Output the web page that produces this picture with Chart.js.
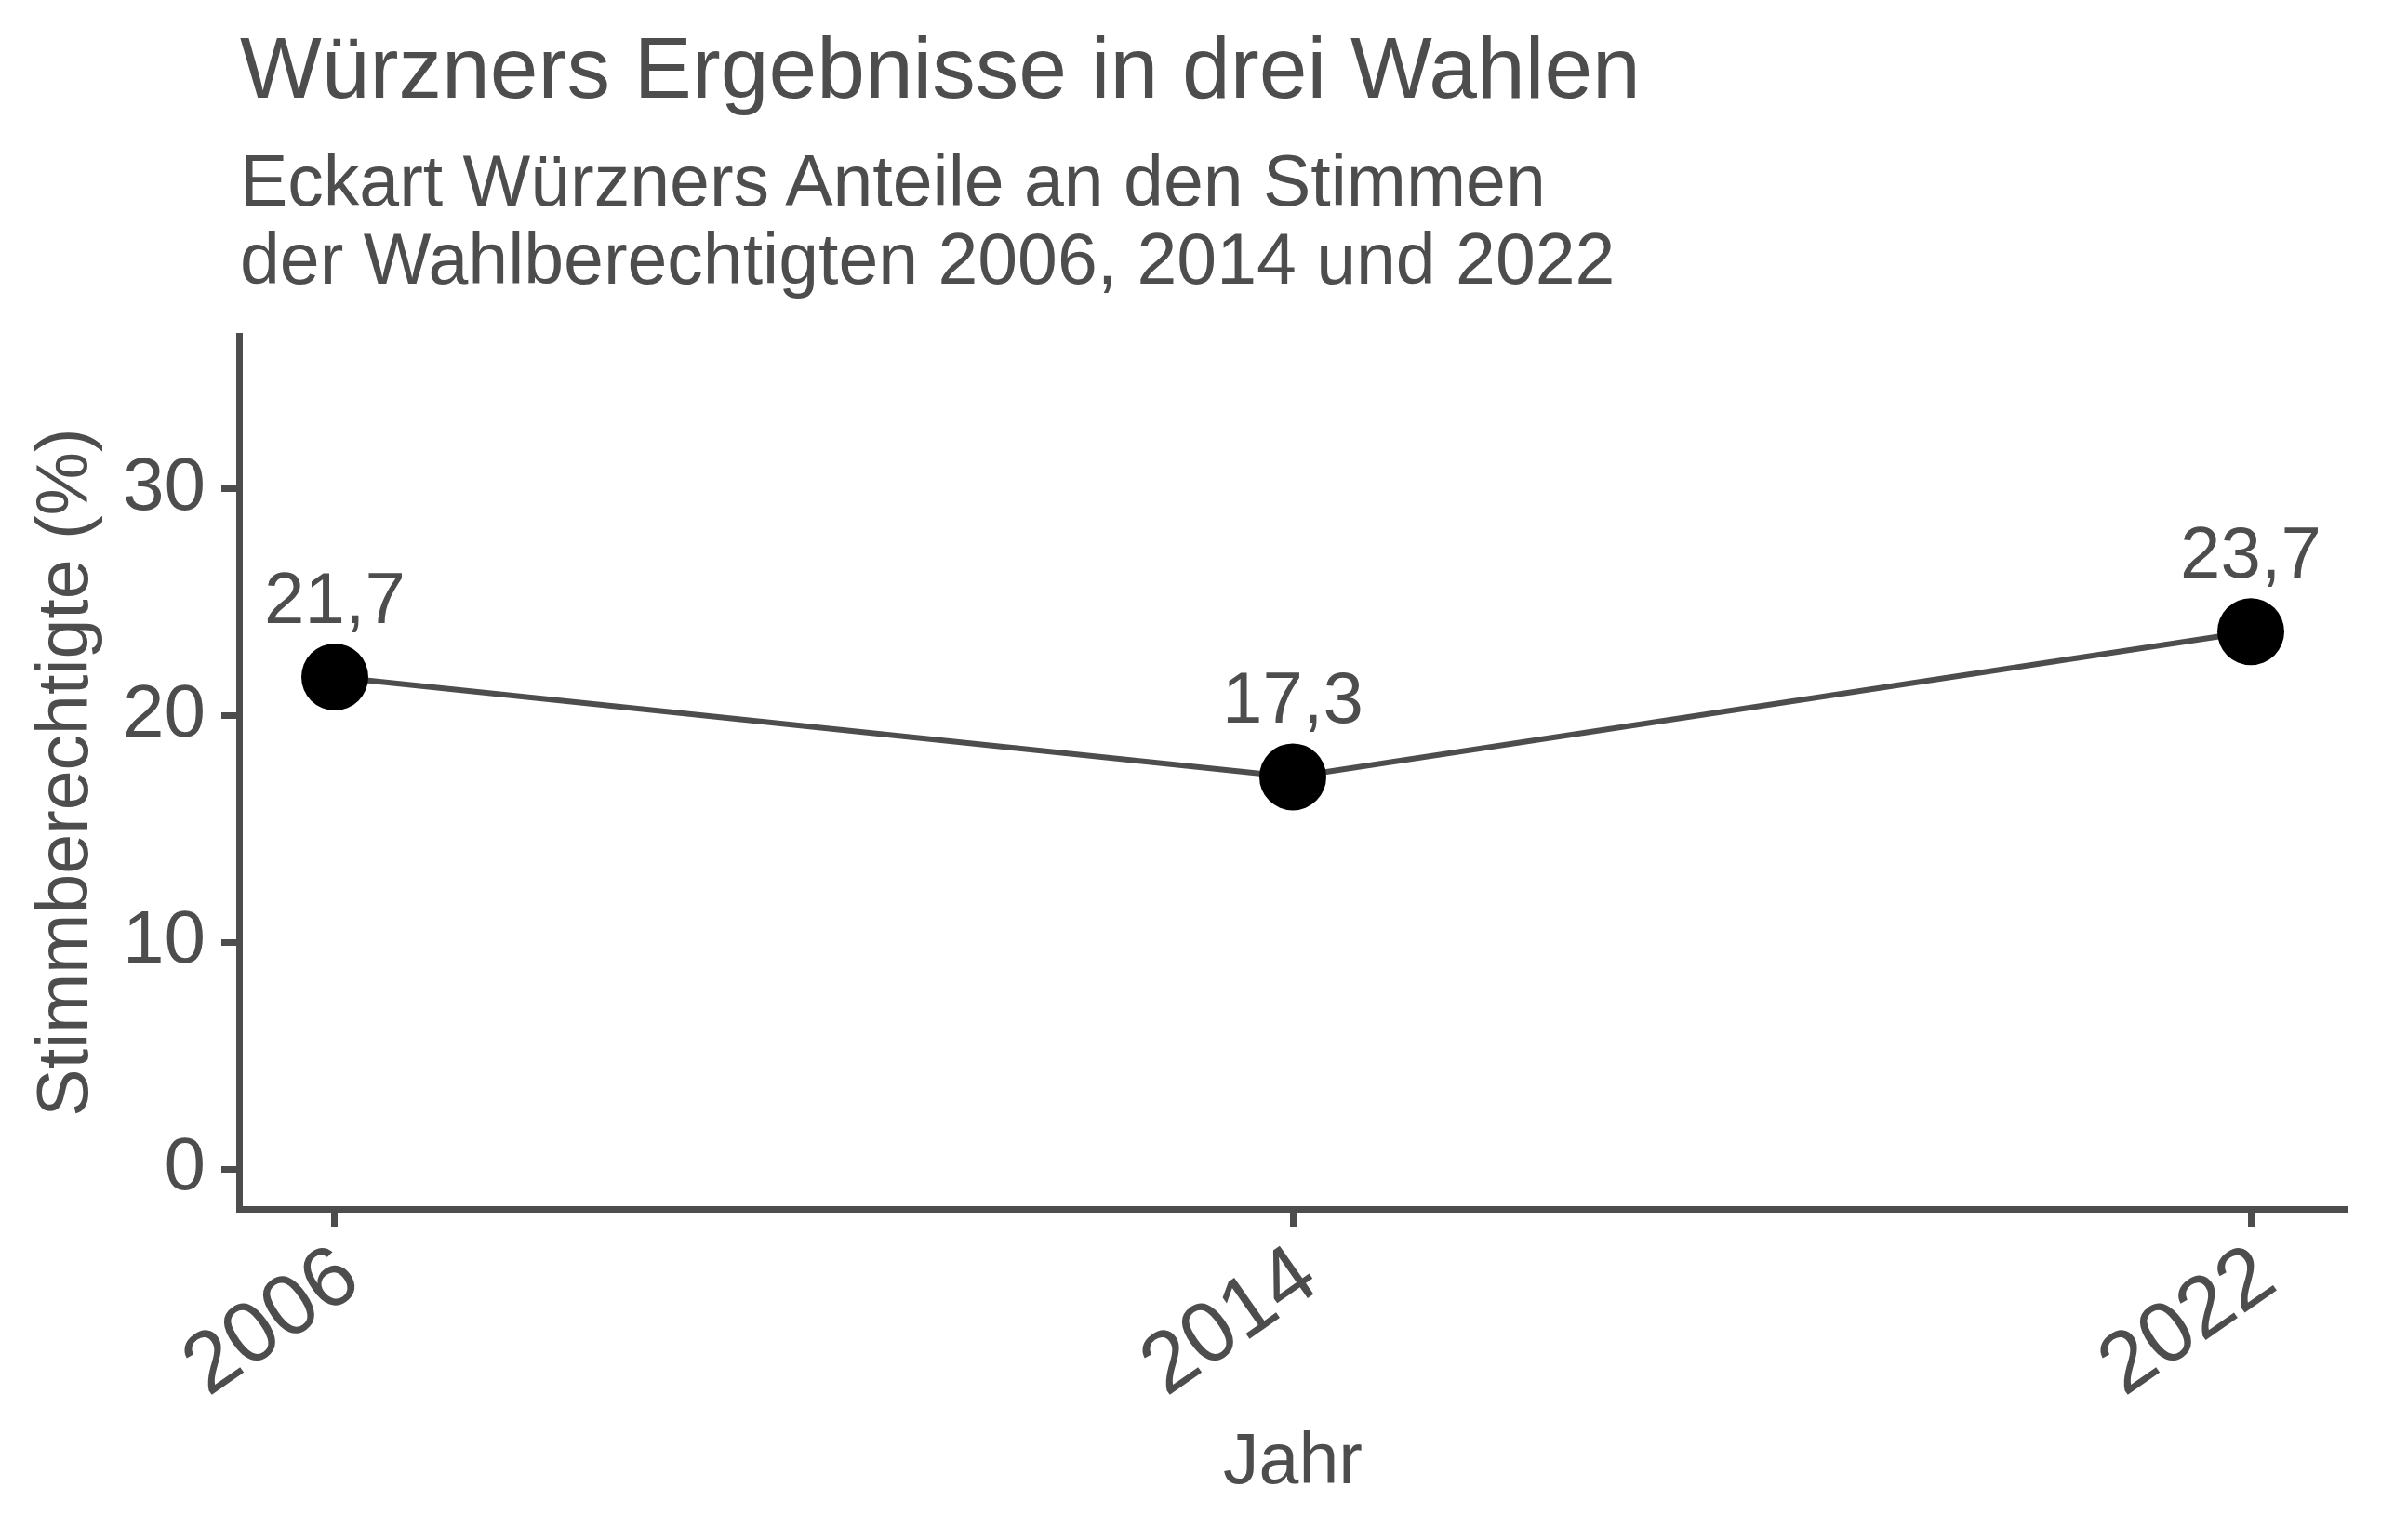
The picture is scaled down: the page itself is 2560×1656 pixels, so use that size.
<!DOCTYPE html>
<html lang="de">
<head>
<meta charset="utf-8">
<title>Würzners Ergebnisse in drei Wahlen</title>
<script src="https://cdn.jsdelivr.net/npm/chart.js@4.4.1/dist/chart.umd.min.js"></script>
<style>
  html, body { margin: 0; padding: 0; background: #ffffff; }
  #wrap { position: relative; width: 2560px; height: 1656px; }
  #chart { position: absolute; left: 0; top: 0; }
  .txt { position: absolute; left: 258px; color: #4d4d4d; font-family: "Liberation Sans", Arial, sans-serif; white-space: nowrap; }
  #title { top: 27px; font-size: 93px; line-height: 93px; }
  #subtitle { top: 152px; font-size: 77px; line-height: 84px; }
</style>
</head>
<body>
<div id="wrap">
  <canvas id="chart" width="2560" height="1656"></canvas>
  <div id="title" class="txt">Würzners Ergebnisse in drei Wahlen</div>
  <div id="subtitle" class="txt">Eckart Würzners Anteile an den Stimmen<br>der Wahlberechtigten 2006, 2014 und 2022</div>
</div>
<script>
// Daten
const years = [2006, 2014, 2022];
const shares = [21.7, 17.3, 23.7];
const xTicks = [2006, 2014, 2022];
const yTicks = [0, 10, 20, 30];

const GREY = '#4d4d4d';
const FONT = '"Liberation Sans", Arial, sans-serif';

// Beschriftung der Punkte (Dezimalkomma)
const pointLabels = {
    id: 'pointLabels',
    afterDatasetsDraw(chart) {
        const ctx = chart.ctx;
        const meta = chart.getDatasetMeta(0);
        ctx.save();
        ctx.font = '78px ' + FONT;
        ctx.fillStyle = GREY;
        ctx.textAlign = 'center';
        ctx.textBaseline = 'alphabetic';
        meta.data.forEach((pt, i) => {
            const txt = shares[i].toFixed(1).replace('.', ',');
            ctx.fillText(txt, pt.x, pt.y - 58);
        });
        ctx.restore();
    }
};

document.addEventListener('DOMContentLoaded', function() {
    const ctx = document.getElementById('chart').getContext('2d');

    new Chart(ctx, {
        type: 'line',
        data: {
            datasets: [{
                data: years.map((y, i) => ({ x: y, y: shares[i] })),
                borderColor: GREY,
                borderWidth: 6,
                pointRadius: 36,
                pointBackgroundColor: '#000000',
                pointBorderColor: '#000000',
                pointBorderWidth: 0,
                tension: 0,
                clip: false
            }]
        },
        options: {
            responsive: false,
            animation: false,
            devicePixelRatio: 1,
            layout: { padding: { top: 361, right: 37, left: 0, bottom: 0 } },
            plugins: {
                legend: { display: false },
                tooltip: { enabled: false },
                title: { display: false }
            },
            scales: {
                x: {
                    type: 'linear',
                    min: 2005.2,
                    max: 2022.8,
                    afterBuildTicks: scale => { scale.ticks = xTicks.map(v => ({ value: v })); },
                    afterFit: scale => {
                        scale.height = 356;
                        scale.paddingLeft = 0;
                        scale.paddingRight = 0;
                    },
                    border: { display: true, color: GREY, width: 7 },
                    grid: { display: true, drawOnChartArea: false, drawTicks: true, tickLength: 19, tickWidth: 7, tickColor: GREY },
                    ticks: {
                        color: GREY,
                        font: { family: FONT, size: 92 },
                        minRotation: 35,
                        maxRotation: 35,
                        padding: 0,
                        labelOffset: 17,
                        autoSkip: false,
                        callback: v => String(v)
                    },
                    title: {
                        display: true,
                        text: 'Jahr',
                        color: GREY,
                        font: { family: FONT, size: 77 },
                        padding: { top: 0, bottom: 36 }
                    }
                },
                y: {
                    type: 'linear',
                    min: -1.75,
                    max: 36.75,
                    afterBuildTicks: scale => { scale.ticks = yTicks.map(v => ({ value: v })); },
                    afterFit: scale => {
                        scale.width = 257;
                        scale.paddingTop = 0;
                        scale.paddingBottom = 0;
                    },
                    border: { display: true, color: GREY, width: 7 },
                    grid: { display: true, drawOnChartArea: false, drawTicks: true, tickLength: 19, tickWidth: 7, tickColor: GREY },
                    ticks: {
                        color: GREY,
                        font: { family: FONT, size: 80 },
                        padding: 17,
                        callback: v => String(v)
                    },
                    title: {
                        display: true,
                        text: 'Stimmberechtigte (%)',
                        color: GREY,
                        font: { family: FONT, size: 77 },
                        padding: { top: 27, bottom: 0 }
                    }
                }
            }
        },
        plugins: [pointLabels]
    });
});
</script>
</body>
</html>
